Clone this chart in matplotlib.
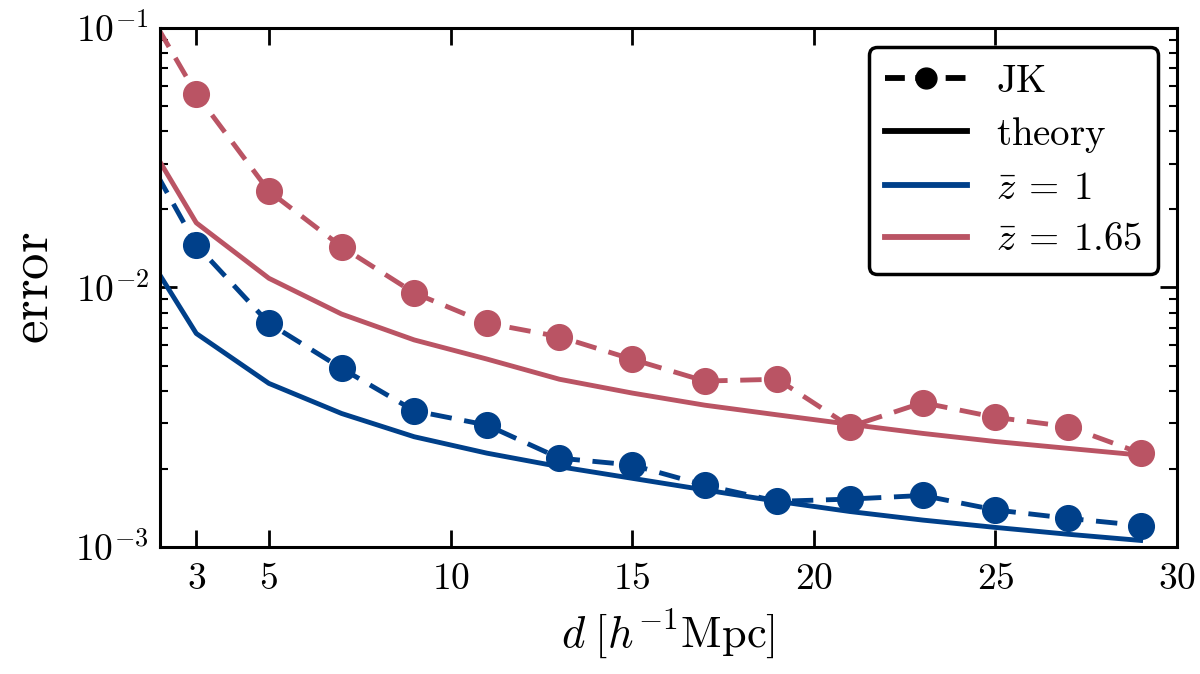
import matplotlib
matplotlib.use("Agg")
import matplotlib.pyplot as plt
from matplotlib.lines import Line2D
import numpy as np

plt.rcParams['mathtext.fontset'] = 'cm'
plt.rcParams['font.family'] = ['DejaVu Serif']

d = [1, 3, 5, 7, 9, 11, 13, 15, 17, 19, 21, 23, 25, 27, 29]

jk_z1 = [0.0463, 0.01458, 0.00728, 0.00488, 0.00335, 0.00295, 0.0022, 0.00207,
         0.00173, 0.0015, 0.00153, 0.00158, 0.00139, 0.00129, 0.00121]
th_z1 = [0.0187, 0.00665, 0.00427, 0.00327, 0.00266, 0.0023, 0.00204, 0.00184,
         0.00166, 0.0015, 0.00137, 0.00127, 0.00119, 0.00112, 0.00106]
jk_z165 = [0.169, 0.0557, 0.0235, 0.01436, 0.00953, 0.00729, 0.00646, 0.00529,
           0.00436, 0.00443, 0.00291, 0.0036, 0.00316, 0.00291, 0.0023]
th_z165 = [0.0524, 0.01775, 0.01085, 0.0079, 0.00628, 0.0053, 0.00443, 0.00392,
           0.00352, 0.00323, 0.00297, 0.00274, 0.00255, 0.0024, 0.00226]

xticks = [3, 5, 10, 15, 20, 25, 30]
xticklabels = [r'$3$', r'$5$', r'$10$', r'$15$', r'$20$', r'$25$', r'$30$']
yticks = [1e-3, 1e-2, 1e-1]
yticklabels = [r'$10^{-3}$', r'$10^{-2}$', r'$10^{-1}$']

blue = '#00408A'
red = '#BA5464'

fig = plt.figure(figsize=(12, 6.74), dpi=100)
ax = fig.add_axes([0.1333, 0.1884, 0.8475, 0.7701])

lw = 3.5
dash = (4.4, 2.6)
ax.plot(d, jk_z165, color=red, lw=lw, ls='--', dashes=dash, marker='o', ms=18.5)
ax.plot(d, th_z165, color=red, lw=lw)
ax.plot(d, jk_z1, color=blue, lw=lw, ls='--', dashes=dash, marker='o', ms=18.5)
ax.plot(d, th_z1, color=blue, lw=lw)

ax.set_yscale('log')
ax.set_xlim(2, 30)
ax.set_ylim(1e-3, 1e-1)
ax.set_xticks(xticks)
ax.set_xticklabels(xticklabels)
ax.set_yticks(yticks)
ax.set_yticklabels(yticklabels)

ax.tick_params(which='both', direction='in', top=True, right=True, labelsize=27)
ax.tick_params(which='major', length=12, width=2)
ax.tick_params(which='minor', length=6, width=1.5)
ax.tick_params(axis='x', pad=10)
ax.tick_params(axis='y', pad=8)
for s in ax.spines.values():
    s.set_linewidth(2.2)

ax.set_xlabel(r'$d\;[h^{-1}\mathrm{Mpc}]$', fontsize=32, labelpad=8)
ax.set_ylabel(r'$\mathrm{error}$', fontsize=38, labelpad=12)

handles = [
    Line2D([], [], color='k', lw=4.2, ls='--', dashes=(3.4, 1.8), marker='o', ms=15),
    Line2D([], [], color='k', lw=4.2),
    Line2D([], [], color=blue, lw=4.2),
    Line2D([], [], color=red, lw=4.2),
]
labels = [r'$\mathrm{JK}$', r'$\mathrm{theory}$', r'$\bar{z}\:=\:1$', r'$\bar{z}\:=\:1.65$']
leg = ax.legend(handles, labels, loc='upper right', fontsize=28, framealpha=1,
                fancybox=True, edgecolor='k', handlelength=2.1, labelspacing=0.38,
                borderpad=0.4, handletextpad=0.75, borderaxespad=0.5)
leg.get_frame().set_linewidth(2.5)

fig.savefig('out.png', dpi=100)
